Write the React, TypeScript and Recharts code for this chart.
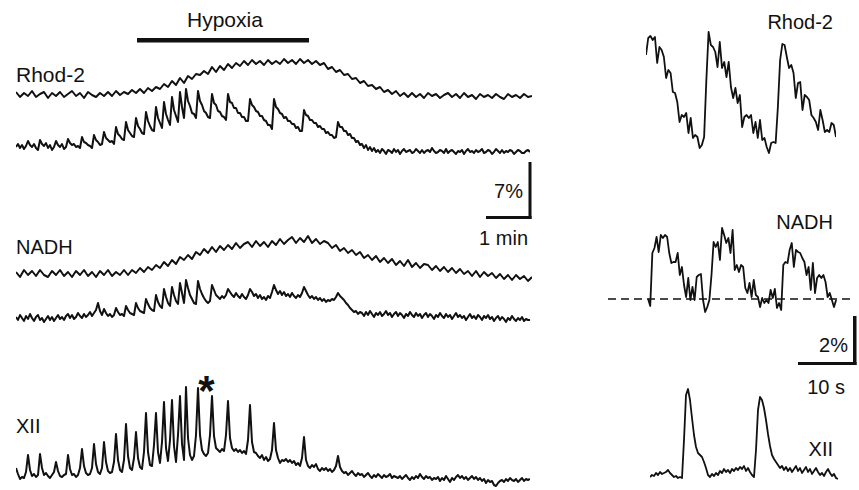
import React from 'react';
import { LineChart, Line, XAxis, YAxis, ReferenceLine } from 'recharts';

const FONT = '"Liberation Sans", Arial, Helvetica, sans-serif';
const INK = '#111';

// Left panel (slow traces sampled half as often as burst traces)
const rhodSlow = [
  8,3,7,4,9,3,6,8,2,7,4,8,3,6,9,4,7,2,8,5,3,7,4,8,
  4,9,5,8,6,10,7,
  11,7,12,9,13,
  11,16,13,19,15,
  22,17,24,21,26,
  25,29,26,33,28,
  34,30,36,32,37,
  34,39,35,40,36,
  39,35,40,36,39,
  36,41,37,40,36,
  41,37,40,36,39,
  35,37,31,33,28,
  30,25,26,21,22,
  17,19,14,15,
  11,13,8,10,
  6,9,4,7,3,
  7,3,6,2,7,4,6,2,5,7,
  3,6,2,7,3,5,1,6,3,5,2,6,3,1,6,3,5,2,6,3,4,
];

const rhodBurst = [
  3,6,2,5,1,4,9,5,3,6,
  2,0,10,6,4,7,2,5,0,3,
  9,5,3,6,1,3,11,7,5,6,
  3,4,2,13,8,7,5,4,2,15,
  10,8,5,6,18,12,10,8,9,6,
  23,16,14,11,10,28,20,17,14,13,
  32,24,21,17,16,38,29,24,20,19,
  43,32,27,22,48,36,30,25,53,40,
  34,28,58,43,32,61,49,44,37,36,
  32,59,49,45,39,37,33,32,56,47,
  45,39,38,34,33,30,56,48,47,42,
  42,37,37,33,33,29,29,51,45,43,
  39,38,34,34,30,29,25,25,21,51,
  43,41,37,36,32,33,29,29,26,26,
  22,23,19,19,40,35,34,30,30,27,
  27,23,24,21,21,17,18,15,15,12,
  13,28,23,23,19,19,15,16,12,12,
  8,9,5,6,2,5,0,3,-1,2,
  -2,
  0,-3,1,-1,-4,0,-1,-3,1,-2,
  0,-4,-1,1,-2,-1,0,-3,-2,1,
  -1,-3,0,-3,-1,0,-2,2,-1,-3,
  -2,0,-1,-3,1,-3,-1,0,-2,-4,
  -1,-2,0,-4,-1,1,-2,-1,-3,0,
  -2,-1,1,-3,-2,0,-1,-4,-2,1,
  -1,-3,0,-3,-1,-2,0,-1,-4,-2,
  0,-1,-3,-3,-1,0,-2,
];

const nadhSlow = [
  8,3,10,5,9,4,10,5,3,9,
  5,10,4,8,3,9,5,10,4,8,
  3,9,5,10,4,8,5,10,
  5,10,7,12,8,13,
  10,15,12,18,14,
  20,16,23,20,
  25,21,28,
  25,31,27,33,28,34,30,35,
  31,37,32,36,38,33,39,34,38,
  33,39,35,41,36,40,
  43,37,42,38,44,37,41,36,39,
  37,32,35,29,32,27,30,25,
  28,22,25,20,24,18,22,17,
  21,15,19,14,20,13,17,12,16,
  15,10,14,9,13,8,12,7,
  11,6,9,4,9,3,8,4,
  7,2,6,1,5,0,5,1,4,-1,3,
];

const nadhBurst = [
  8,5,10,7,4,9,6,11,7,4,
  8,10,5,7,3,6,9,5,8,4,
  7,10,6,8,5,9,11,7,10,6,
  8,12,9,7,11,8,10,13,9,12,
  15,22,14,10,16,12,9,11,8,10,
  17,13,10,11,9,19,15,12,11,10,
  22,17,14,13,12,26,21,17,15,14,
  30,23,19,17,36,28,22,19,38,30,
  24,21,42,32,22,45,37,30,26,22,
  21,44,36,31,27,24,22,24,40,35,
  30,28,26,29,27,30,36,33,30,28,
  32,29,27,31,28,26,30,36,33,29,
  31,27,30,26,28,25,29,27,33,40,
  35,31,34,30,33,29,31,28,32,29,
  27,30,28,32,38,34,30,27,29,26,
  28,25,27,24,26,23,25,24,26,25,
  28,32,29,27,25,22,20,17,15,13,
  14,11,13,
  12,9,13,10,14,11,8,12,10,13,
  9,11,14,10,12,8,11,13,9,12,
  10,7,11,9,13,10,8,12,9,11,
  7,10,12,8,11,9,6,10,8,12,
  9,7,11,8,10,6,9,12,8,10,
  7,9,5,8,11,7,9,6,10,8,
  5,9,7,10,6,8,4,7,9,5,
  8,6,3,7,5,9,6,4,7,5,
  8,4,6,5,5,
];

const xiiBurst = [
  12,6,1,3,2,8,25,10,4,6,
  3,5,26,12,5,7,4,2,5,8,
  18,9,4,3,5,6,25,11,5,6,
  3,5,12,31,14,7,5,6,12,36,
  16,8,6,12,38,18,9,7,8,18,
  46,20,10,8,20,56,24,12,10,22,
  48,22,13,11,28,67,28,15,14,35,
  67,28,17,38,78,32,19,40,80,34,
  18,45,84,36,20,93,42,25,20,24,
  45,92,45,30,26,24,27,45,84,44,
  32,30,28,31,29,45,79,42,32,29,
  31,28,30,27,29,26,40,75,38,28,
  27,24,22,25,20,23,19,21,30,57,
  30,22,17,20,19,21,18,20,17,19,
  15,17,14,22,43,20,14,12,15,13,
  16,11,9,12,10,12,9,11,8,10,
  14,24,13,9,7,8,5,7,9,6,
  4,7,5,
  6,3,5,7,4,2,5,3,6,4,2,5,3,4,6,2,4,3,
  2,4,1,3,5,2,0,3,1,4,2,6,3,1,4,2,3,0,2,1,
  3,-1,2,0,4,1,-2,2,0,3,5,2,4,1,3,0,2,4,1,3,
  0,2,-1,1,-3,0,-2,-1,-5,-6,-3,-1,0,-2,1,-1,2,0,-1,1,-2,0,2,-1,1,0,1,
];

// Right panel, expanded time base
const rhodFast = [
  105,122,124,120,123,97,113,110,103,82,
  90,87,68,67,58,38,45,43,47,27,
  42,22,25,23,12,15,23,80,128,115,
  113,108,93,118,92,98,83,98,73,62,
  72,57,65,33,43,45,42,45,27,38,
  22,40,20,22,13,7,17,18,17,53,
  100,116,115,103,92,95,87,62,77,78,
  50,65,63,60,45,42,38,30,50,40,
  28,30,28,37,35,23,
];

const nadhFast = [
  0,-7,46,51,62,47,64,61,64,62,
  46,36,37,37,46,24,32,14,2,21,
  -1,12,-1,22,24,25,-1,-13,-8,-1,
  24,57,52,57,39,71,64,56,61,46,
  69,29,34,27,34,32,11,6,16,2,
  19,4,2,-8,1,-4,-1,-4,9,1,
  10,-9,-4,-11,34,37,36,49,56,32,
  49,47,46,41,37,24,32,9,36,6,
  21,24,21,24,17,2,6,-1,-8,-1,
];

const xiiFast = [
  3,5,4,7,5,8,6,7,8,10,
  7,5,3,4,2,3,2,40,85,91,
  80,62,45,33,27,25,23,18,12,5,
  3,6,4,7,5,9,7,11,8,10,
  7,11,9,12,10,13,11,14,9,12,
  8,5,3,30,70,83,80,72,60,46,
  34,25,21,18,15,12,14,10,13,9,
  12,8,11,14,9,12,7,10,13,8,
  11,6,9,12,8,5,7,4,8,11,
  7,4,6,2,1,
];

type TraceProps = {
  values: number[];
  left: number;
  top: number;
  width: number;
  height: number;
  yDomain: [number, number];
  xDomain?: [number, number];
  baseline?: boolean;
  sw?: number;
};

function Trace({ values, left, top, width, height, yDomain, xDomain, baseline, sw = 2 }: TraceProps) {
  const data = values.map((v, i) => ({ i, v }));
  return (
    <div style={{ position: 'absolute', left, top, width, height }}>
      <LineChart width={width} height={height} data={data} margin={{ top: 0, right: 0, bottom: 0, left: 0 }}>
        <XAxis dataKey="i" type="number" domain={xDomain ?? [0, values.length - 1]} hide allowDataOverflow />
        <YAxis type="number" domain={yDomain} hide allowDataOverflow />
        {baseline && (
          <ReferenceLine y={0} stroke={INK} strokeWidth={1.6} strokeDasharray="8 5" />
        )}
        <Line
          type="linear"
          dataKey="v"
          stroke={INK}
          strokeWidth={sw}
          dot={false}
          isAnimationActive={false}
          strokeLinejoin="round"
        />
      </LineChart>
    </div>
  );
}

export default function App() {
  const t = { fontFamily: FONT, fill: INK } as const;
  return (
    <div style={{ position: 'absolute', left: 0, top: 0, width: 859, height: 490, background: '#fff', overflow: 'hidden' }}>
      <Trace values={rhodSlow} left={16} top={50} width={516} height={60} yDomain={[-10, 50]} />
      <Trace values={rhodBurst} left={16} top={50} width={514} height={110} yDomain={[-10, 100]} />
      <Trace values={nadhSlow} left={16} top={225} width={516} height={110} yDomain={[-55, 55]} />
      <Trace values={nadhBurst} left={16} top={225} width={514} height={110} yDomain={[-10, 100]} />
      <Trace values={xiiBurst} left={16} top={380} width={514} height={110} yDomain={[-10, 100]} />

      <Trace values={rhodFast} left={646} top={20} width={190} height={140} yDomain={[0, 140]} sw={1.8} />
      <Trace values={nadhFast} left={608} top={200} width={245} height={130} yDomain={[-31, 99]} xDomain={[-19, 97]} baseline sw={1.8} />
      <Trace values={xiiFast} left={650} top={370} width={188} height={120} yDomain={[-10, 110]} sw={1.8} />

      <svg width={859} height={490} style={{ position: 'absolute', left: 0, top: 0, pointerEvents: 'none' }}>
        <text x={187} y={27} fontSize={21} {...t}>Hypoxia</text>
        <rect x={137} y={38} width={172} height={4.5} fill={INK} />

        <text x={16} y={82} fontSize={21} {...t}>Rhod-2</text>
        <text x={16} y={254} fontSize={20} {...t}>NADH</text>
        <text x={16} y={433} fontSize={20} {...t}>XII</text>
        <text x={206.5} y={405} fontSize={42} fontWeight="bold" textAnchor="middle" {...t}>*</text>

        <rect x={528.5} y={162} width={3} height={57} fill={INK} />
        <rect x={486} y={216} width={45.5} height={3} fill={INK} />
        <text x={523} y={198} fontSize={20} textAnchor="end" {...t}>7%</text>
        <text x={528} y={245} fontSize={20} textAnchor="end" {...t}>1 min</text>

        <text x={833} y={29} fontSize={20} textAnchor="end" {...t}>Rhod-2</text>
        <text x={833} y={229} fontSize={20} textAnchor="end" {...t}>NADH</text>
        <text x={848} y={352} fontSize={20} textAnchor="end" {...t}>2%</text>
        <text x={845} y={394} fontSize={20} textAnchor="end" {...t}>10 s</text>
        <text x={833} y={456} fontSize={20} textAnchor="end" {...t}>XII</text>

        <rect x={853} y={316} width={3.5} height={49} fill={INK} />
        <rect x={798} y={362} width={58.5} height={3} fill={INK} />
      </svg>
    </div>
  );
}
